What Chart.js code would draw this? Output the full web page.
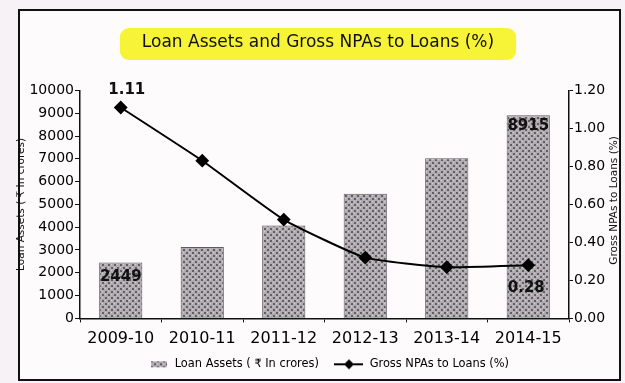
<!DOCTYPE html>
<html>
<head>
<meta charset="utf-8">
<script src="https://cdn.jsdelivr.net/npm/chart.js@4.4.1/dist/chart.umd.min.js"></script>
<style>
  html, body { margin: 0; padding: 0; background: #f7f2f5; }
  #wrap { width: 625px; height: 383px; }
</style>
</head>
<body>
<div id="wrap"><canvas id="loanChart" width="625" height="383"></canvas></div>
<script>
const years = ["2009-10", "2010-11", "2011-12", "2012-13", "2013-14", "2014-15"];
const loanAssets = [2449, 3130, 4070, 5470, 7020, 8915];
const grossNpa = [1.11, 0.83, 0.52, 0.32, 0.27, 0.28];
const leftTicks = [0, 1000, 2000, 3000, 4000, 5000, 6000, 7000, 8000, 9000, 10000];
const rightTicks = [0, 0.2, 0.4, 0.6, 0.8, 1.0, 1.2];
// only the first and last year carry value labels
const labelled = [0, 5];

const FONT = "'DejaVu Sans', Verdana, sans-serif";
const TITLE = "Loan Assets and Gross NPAs to Loans (%)";
const RIGHT_TITLE = "Gross NPAs to Loans (%)";

// grey dotted fill for the bars
function makeHatch() {
  const c = document.createElement("canvas");
  c.width = 6;
  c.height = 6;
  const g = c.getContext("2d");
  g.fillStyle = "#b0acb0";
  g.fillRect(0, 0, 6, 6);
  g.fillStyle = "#625e66";
  g.fillRect(0, 0, 2, 2);
  g.fillRect(3, 3, 2, 2);
  g.fillStyle = "#d6d2d4";
  g.fillRect(3, 0, 1, 1);
  g.fillRect(0, 3, 1, 1);
  return g.createPattern(c, "repeat");
}
const hatch = makeHatch();

// both legend icons share one width so the text lines up after them;
// the empty left part doubles as spacing between the two entries
const ICON_W = 42;
function barIcon() {
  const c = document.createElement("canvas");
  c.width = ICON_W;
  c.height = 8;
  const g = c.getContext("2d");
  g.fillStyle = hatch;
  g.fillRect(ICON_W - 18, 1, 16, 6);
  return c;
}
function lineIcon() {
  const c = document.createElement("canvas");
  c.width = ICON_W;
  c.height = 12;
  const g = c.getContext("2d");
  g.strokeStyle = "#000";
  g.lineWidth = 2;
  g.beginPath();
  g.moveTo(12, 6);
  g.lineTo(ICON_W - 1, 6);
  g.stroke();
  g.fillStyle = "#000";
  g.beginPath();
  g.moveTo(27, 1);
  g.lineTo(32, 6);
  g.lineTo(27, 11);
  g.lineTo(22, 6);
  g.closePath();
  g.fill();
  return c;
}

const paper = {
  id: "paper",
  beforeDraw(chart) {
    const ctx = chart.ctx;
    ctx.save();
    ctx.fillStyle = "#f7f2f5";
    ctx.fillRect(0, 0, chart.width, chart.height);
    ctx.fillStyle = "#fdfbfc";
    ctx.fillRect(19, 10, 601, 370);
    ctx.strokeStyle = "#111";
    ctx.lineWidth = 2;
    ctx.strokeRect(19, 10, 601, 370);
    // highlighter stroke behind the title
    const t = chart.titleBlock;
    ctx.font = "17px " + FONT;
    const w = ctx.measureText(TITLE).width;
    const cx = (t.left + t.right) / 2;
    const cy = t.top + t.options.padding.top + 11;
    ctx.fillStyle = "rgba(247, 243, 45, 0.95)";
    ctx.beginPath();
    ctx.roundRect(cx - w / 2 - 22, cy - 15, w + 44, 32, 9);
    ctx.fill();
    ctx.restore();
  }
};

const valueLabels = {
  id: "valueLabels",
  afterDatasetsDraw(chart) {
    const ctx = chart.ctx;
    const bars = chart.getDatasetMeta(0).data;
    const pts = chart.getDatasetMeta(1).data;
    ctx.save();
    ctx.font = "bold 15px " + FONT;
    ctx.fillStyle = "#111";
    ctx.textAlign = "center";
    ctx.textBaseline = "middle";
    labelled.forEach((i, k) => {
      ctx.fillText(String(loanAssets[i]), bars[i].x, bars[i].y + (k === 0 ? 15 : 11));
      const p = pts[i];
      const txt = grossNpa[i].toFixed(2);
      if (k === 0) ctx.fillText(txt, p.x + 6, p.y - 17);
      else ctx.fillText(txt, p.x - 2, p.y + 23);
    });
    // right axis title, reading upwards
    const s = chart.scales.y1;
    ctx.font = "10.5px " + FONT;
    ctx.textBaseline = "middle";
    ctx.translate(614, (s.top + s.bottom) / 2 - 4);
    ctx.rotate(-Math.PI / 2);
    ctx.fillText(RIGHT_TITLE, 0, 0);
    ctx.restore();
  }
};

new Chart(document.getElementById("loanChart"), {
  data: {
    labels: years,
    datasets: [
      {
        type: "bar",
        label: "Loan Assets ( \u20b9 In crores)",
        data: loanAssets,
        yAxisID: "y",
        backgroundColor: hatch,
        borderColor: "#5e5a60",
        borderWidth: 1,
        barPercentage: 0.53,
        categoryPercentage: 1,
        order: 1
      },
      {
        type: "line",
        label: RIGHT_TITLE,
        data: grossNpa,
        yAxisID: "y1",
        borderColor: "#000",
        borderWidth: 2,
        backgroundColor: "#000",
        pointStyle: "rectRot",
        pointRadius: 5.5,
        tension: 0.15,
        order: 0
      }
    ]
  },
  options: {
    responsive: false,
    animation: false,
    layout: { padding: { left: 11, right: 0, top: 0, bottom: 3 } },
    plugins: {
      title: {
        display: true,
        text: TITLE,
        color: "#111",
        font: { family: FONT, size: 17, weight: "normal" },
        padding: { top: 32, bottom: 38 }
      },
      legend: {
        position: "bottom",
        labels: {
          usePointStyle: true,
          pointStyleWidth: ICON_W,
          color: "#111",
          font: { family: FONT, size: 11.4 },
          padding: 3,
          generateLabels(chart) {
            return chart.data.datasets.map((ds, i) => ({
              text: ds.label,
              pointStyle: i === 0 ? barIcon() : lineIcon(),
              fillStyle: "#000",
              strokeStyle: "#000",
              lineWidth: 0,
              hidden: false,
              datasetIndex: i
            }));
          }
        }
      },
      tooltip: { enabled: false }
    },
    scales: {
      x: {
        grid: { display: true, drawOnChartArea: false, color: "#111", tickLength: 4 },
        border: { color: "#111", width: 1.5 },
        ticks: { color: "#000", font: { family: FONT, size: 16 }, padding: 7 }
      },
      y: {
        position: "left",
        min: 0,
        max: 10000,
        afterBuildTicks(scale) {
          scale.ticks = leftTicks.map((v) => ({ value: v }));
        },
        afterFit(scale) {
          scale.width = 69;
        },
        grid: { display: true, drawOnChartArea: false, color: "#111", tickLength: 5 },
        border: { color: "#111", width: 1.5 },
        ticks: {
          color: "#000",
          font: { family: FONT, size: 14 },
          padding: 1,
          callback: (v) => String(v)
        },
        title: {
          display: true,
          text: "Loan Assets ( \u20b9 In crores)",
          color: "#111",
          font: { family: FONT, size: 10.5 },
          padding: { top: 4, bottom: 0 }
        }
      },
      y1: {
        position: "right",
        min: 0,
        max: 1.2,
        afterBuildTicks(scale) {
          scale.ticks = rightTicks.map((v) => ({ value: v }));
        },
        afterFit(scale) {
          scale.width = 56;
        },
        grid: { display: true, drawOnChartArea: false, color: "#111", tickLength: 4 },
        border: { color: "#111", width: 1.5 },
        ticks: {
          color: "#000",
          font: { family: FONT, size: 14 },
          padding: 1,
          callback: (v) => Number(v).toFixed(2)
        }
      }
    }
  },
  plugins: [paper, valueLabels]
});
</script>
</body>
</html>
